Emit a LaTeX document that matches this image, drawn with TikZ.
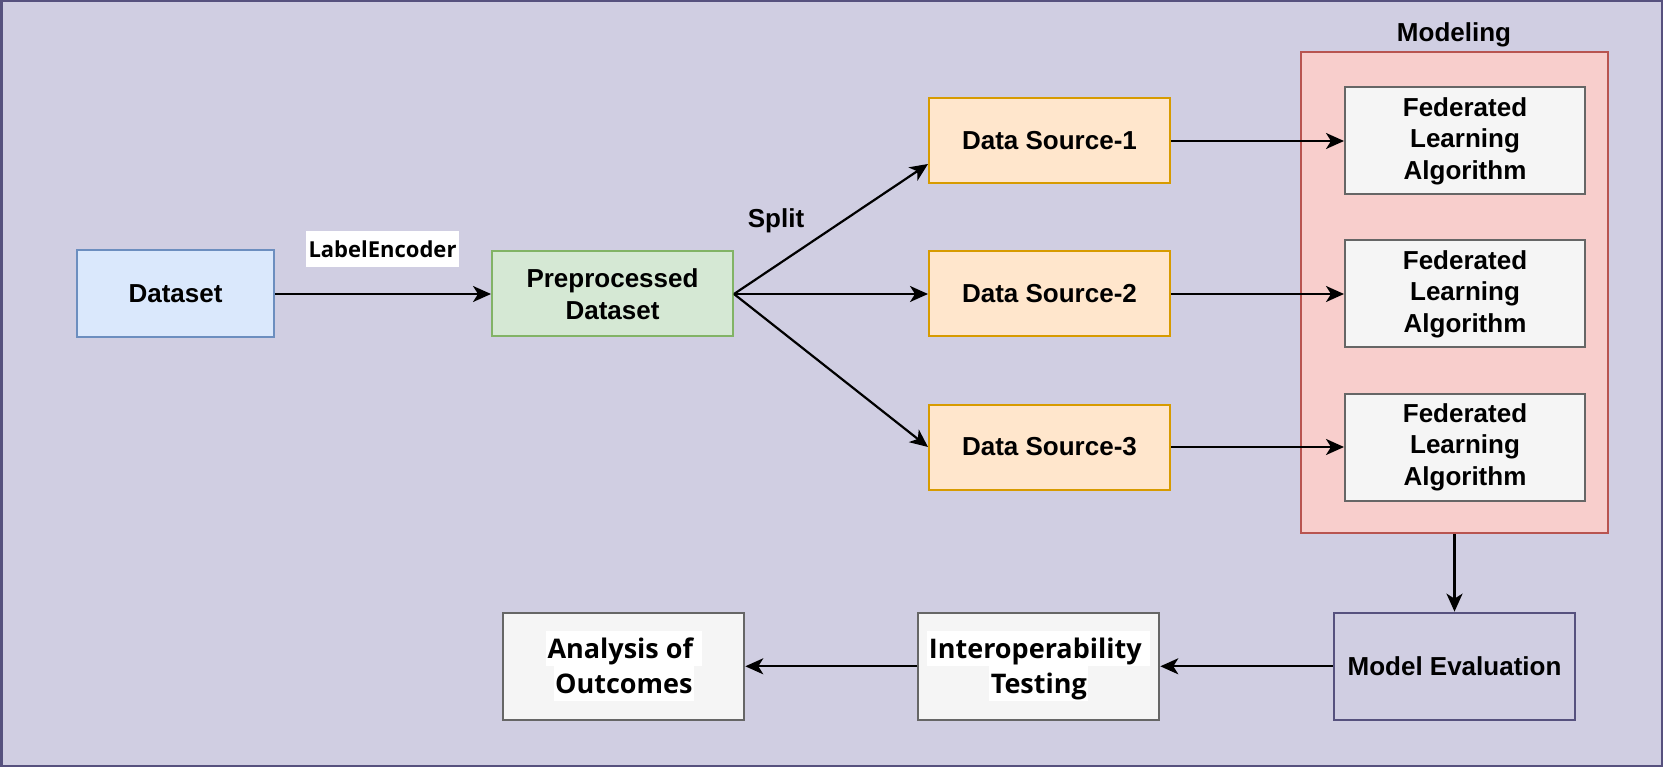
\documentclass[tikz,border=0pt]{standalone}
\usepackage{fontspec}
\setmainfont{Liberation Sans}
\newfontfamily\osans{Open Sans}
\usetikzlibrary{arrows.meta}
\definecolor{bgc}{HTML}{D0CEE2}
\definecolor{bgd}{HTML}{56517E}
\definecolor{bluef}{HTML}{DAE8FC}\definecolor{blued}{HTML}{6C8EBF}
\definecolor{greenf}{HTML}{D5E8D4}\definecolor{greend}{HTML}{82B366}
\definecolor{orf}{HTML}{FFE6CC}\definecolor{ord}{HTML}{D79B00}
\definecolor{redf}{HTML}{F8CECC}\definecolor{redd}{HTML}{B85450}
\definecolor{grayf}{HTML}{F5F5F5}\definecolor{grayd}{HTML}{666666}
\newcommand{\hlline}[1]{{\setlength{\fboxsep}{0pt}\colorbox{white}{\rule[-7.5pt]{0pt}{35pt}\hspace{1.5pt}#1\hspace{1.5pt}}}}
\begin{document}
\begin{tikzpicture}[x=1pt,y=-1pt,
  box/.style={draw, line width=2pt, align=center, inner sep=0pt,
    font=\bfseries\fontsize{26}{31.5}\selectfont},
  bluebox/.style={box, fill=bluef, draw=blued},
  greenbox/.style={box, fill=greenf, draw=greend},
  orbox/.style={box, fill=orf, draw=ord, minimum width=241pt, minimum height=85pt},
  flbox/.style={box, fill=grayf, draw=grayd, minimum width=240pt, minimum height=107pt},
  botbox/.style={box, fill=grayf, draw=grayd, minimum width=241pt, minimum height=107pt,
    font=\osans\bfseries\fontsize{27}{35}\selectfont},
  lbl/.style={font=\bfseries\fontsize{26}{31.5}\selectfont, inner sep=0pt},
  arr/.style={line width=2.2pt, -{Stealth[length=18pt,width=16pt,inset=5pt]}}
]
\useasboundingbox (0,0) rectangle (1663,767);
\node[draw=bgd, fill=bgc, line width=2.5pt, minimum width=1660.5pt, minimum height=764.5pt, inner sep=0pt] (frame) at (831.5,383.5) {};

\node[bluebox, minimum width=197pt, minimum height=87pt] (dataset) at (175.5,294) {Dataset};
\node[greenbox, minimum width=241pt, minimum height=85pt] (prep) at (612.5,294) {Preprocessed\\Dataset};
\node[fill=white, minimum width=153pt, minimum height=35.7pt, inner sep=0pt,
  font=\osans\bfseries\fontsize{22}{26}\selectfont] (le) at (382.5,249) {LabelEncoder};

\node[orbox] (ds1) at (1049.5,141) {Data Source-1};
\node[orbox] (ds2) at (1049.5,294) {Data Source-2};
\node[orbox] (ds3) at (1049.5,447) {Data Source-3};
\node[lbl] (split) at (776,221) {Split};

\node[draw=redd, fill=redf, line width=2pt, minimum width=307pt, minimum height=481pt, inner sep=0pt] (modeling) at (1454.5,292.5) {};
\node[lbl] (modlbl) at (1454,35) {Modeling};
\node[flbox] (fl1) at (1465,141) {Federated\\Learning\\Algorithm};
\node[flbox] (fl2) at (1465,294) {Federated\\Learning\\Algorithm};
\node[flbox] (fl3) at (1465,447) {Federated\\Learning\\Algorithm};

\node[box, fill=bgc, draw=bgd, minimum width=241.5pt, minimum height=107.3pt] (me) at (1454.5,666.3) {Model Evaluation};
\node[botbox] (it) at (1038.8,666.3) {\hlline{Interoperability~}\\\hlline{Testing}};
\node[botbox] (ao) at (623.8,666.3) {\hlline{Analysis of~}\\\hlline{Outcomes}};

\draw[arr] (dataset.east) -- (prep.west);
\draw[arr] (prep.east) -- ([yshift=-23pt]ds1.west);
\draw[arr] (prep.east) -- (ds2.west);
\draw[arr] (prep.east) -- (ds3.west);
\draw[arr] (ds1.east) -- (fl1.west);
\draw[arr] (ds2.east) -- (fl2.west);
\draw[arr] (ds3.east) -- (fl3.west);
\draw[arr] (modeling.south) -- (me.north);
\draw[arr] (me.west) -- (it.east);
\draw[arr] (it.west) -- (ao.east);
\end{tikzpicture}
\end{document}
